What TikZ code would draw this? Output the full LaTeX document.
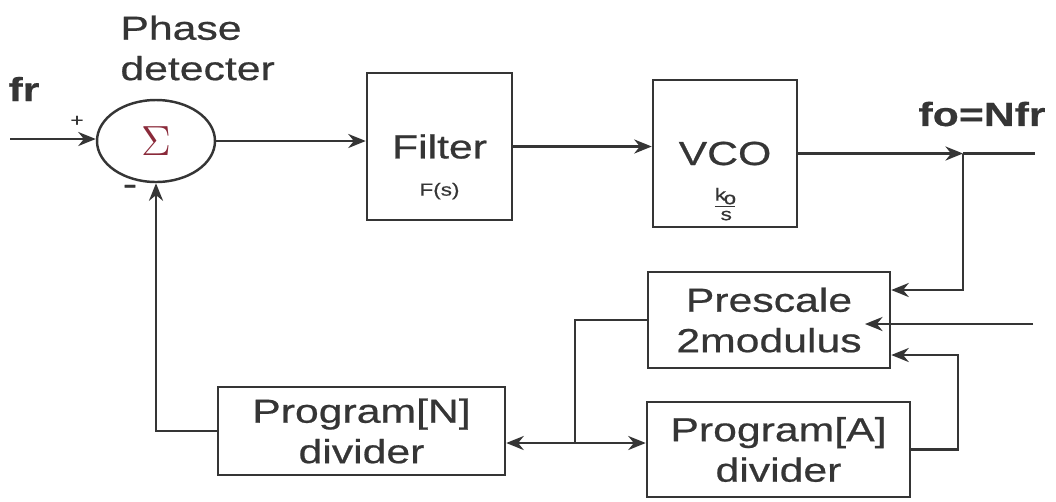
\documentclass[tikz,border=0pt]{standalone}
\usepackage{fontspec}
\setmainfont{Liberation Sans}[FakeStretch=1.28, FakeBold=0.6]
\usetikzlibrary{arrows.meta,shapes.geometric,calc,positioning}
\definecolor{ink}{HTML}{353535}
\definecolor{sig}{HTML}{8A2A3A}
\tikzset{
  blk/.style={draw=ink, line width=0.7pt, text=ink, align=center, inner sep=0pt,
    font=\fontsize{9.5}{11.5}\selectfont},
  lbl/.style={text=ink, font=\fontsize{9.5}{11.5}\selectfont},
  sub/.style={text=ink, font=\fontsize{5}{6}\selectfont},
  arr/.style={draw=ink, line width=0.7pt, -{Stealth[length=5pt,width=4pt]}},
  wire/.style={draw=ink, line width=0.7pt}
}
\begin{document}
\begin{tikzpicture}
  \useasboundingbox (0,0) rectangle (10.56,5.01);
  % Forward path
  \node[blk, ellipse, minimum width=1.18cm, minimum height=0.82cm] (sum) at (1.56,3.60)
    {\color{sig}\large$\Sigma$};
  \node[blk, minimum width=1.45cm, minimum height=1.47cm] (filter) at (4.395,3.545) {Filter};
  \node[blk, minimum width=1.44cm, minimum height=1.47cm] (vco) at (7.25,3.475) {VCO};
  \node[sub, below=0.24cm of filter.center] (fs) {F(s)};
  \node[sub, below=0.22cm of vco.center] (ks) {$\frac{\mathrm{k_o}}{\mathrm{s}}$};
  % Feedback path
  \node[blk, minimum width=2.42cm, minimum height=0.96cm] (pre) at (7.69,1.81) {Prescale\\2modulus};
  \node[blk, minimum width=2.63cm, minimum height=0.95cm] (proga) at (7.785,0.515) {Program[A]\\divider};
  \node[blk, minimum width=2.87cm, minimum height=0.88cm] (progn) at (3.615,0.70) {Program[N]\\divider};
  % Labels
  \node[lbl, font=\bfseries\fontsize{9.5}{11.5}\selectfont] (fr) at (0.24,4.12) {fr};
  \node[lbl, align=left, anchor=west] (pd) at (1.08,4.53) {Phase\\detecter};
  \node[lbl, font=\bfseries\fontsize{9.5}{11.5}\selectfont] (fo) at (9.82,3.87) {fo=Nfr};
  \node[sub] (plus) at (0.77,3.80) {+};
  \node[lbl] (minus) at (1.30,3.11) {-};
  % Wires
  \coordinate (in) at (0.10,3.62);
  \coordinate (out) at (10.35,3.475);
  \coordinate (tap) at (9.63,3.475);
  \coordinate (mod) at (10.33,1.77);
  \coordinate (modtip) at (8.65,1.77);
  \coordinate (aret) at (9.58,1.46);
  \coordinate (split) at (5.75,0.58);
  \draw[arr] (in) -- (in -| sum.west);
  \draw[arr] (sum.east) -- (sum.east -| filter.west);
  \draw[arr] (filter.east) -- (filter.east -| vco.west);
  \draw[arr] (vco.east) -- (tap);
  \draw[wire] (tap) -- (out);
  \draw[arr] (tap) |- ($(pre.east)+(0,0.30)$);
  \draw[arr] (mod) -- (modtip);
  \draw[arr] (proga.east) -| (aret) -- (aret -| pre.east);
  \draw[wire] (pre.west) -| (split);
  \draw[arr] (split) -- (split -| progn.east);
  \draw[arr] (split) -- (split -| proga.west);
  \draw[arr] (progn.west) -| (sum.south);
\end{tikzpicture}
\end{document}
